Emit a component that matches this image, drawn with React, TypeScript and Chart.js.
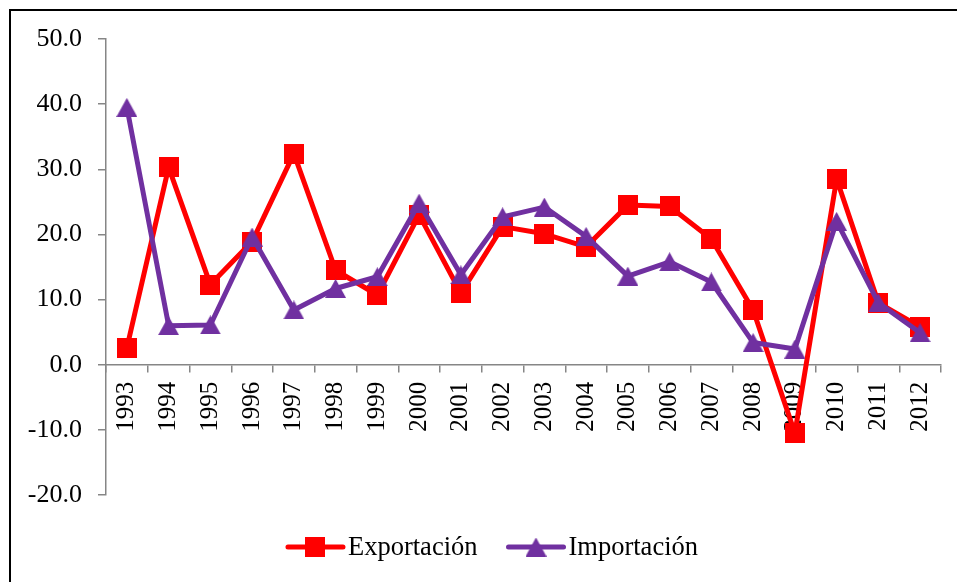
import React, { useEffect, useRef } from "react";
import { Chart, registerables } from "chart.js";

Chart.register(...registerables);

// Annual growth rates (%) of exports and imports
const years = [
  "1993", "1994", "1995", "1996", "1997", "1998", "1999", "2000", "2001", "2002",
  "2003", "2004", "2005", "2006", "2007", "2008", "2009", "2010", "2011", "2012",
];
const exportacion = [
  2.6, 30.3, 12.3, 18.9, 32.4, 14.5, 10.7, 23.0, 11.0, 21.2,
  20.1, 18.1, 24.5, 24.3, 19.3, 8.4, -10.5, 28.5, 9.5, 5.8,
];
const importacion = [
  39.5, 6.0, 6.1, 19.6, 8.4, 11.7, 13.5, 24.8, 13.8, 22.7,
  24.2, 19.7, 13.6, 15.8, 12.7, 3.4, 2.4, 22.0, 9.5, 4.9,
];
const seriesNames = ["Exportación", "Importación"];
const yMin = -20;
const yMax = 50;
const yStep = 10;

const RED = "#FF0000";
const PURPLE = "#7030A0";
const AXIS_GRAY = "#868686";
const FONT = '"Liberation Serif", "Times New Roman", serif';

function makeSquare(size: number, color: string): HTMLCanvasElement {
  const c = document.createElement("canvas");
  c.width = size;
  c.height = size;
  const g = c.getContext("2d")!;
  g.fillStyle = color;
  g.fillRect(0, 0, size, size);
  return c;
}

function makeTriangle(w: number, h: number, color: string): HTMLCanvasElement {
  const c = document.createElement("canvas");
  c.width = w;
  c.height = h;
  const g = c.getContext("2d")!;
  g.fillStyle = color;
  g.beginPath();
  g.moveTo(w / 2, 0);
  g.lineTo(w, h);
  g.lineTo(0, h);
  g.closePath();
  g.fill();
  return c;
}

export default function App() {
  const canvasRef = useRef<HTMLCanvasElement | null>(null);

  useEffect(() => {
    if (!canvasRef.current) return;
    const square = makeSquare(20, RED);
    const triangle = makeTriangle(21, 19, PURPLE);

    const frame = {
      id: "frame",
      beforeDraw(chart: any) {
        const ctx = chart.ctx;
        ctx.save();
        ctx.fillStyle = "#fff";
        ctx.fillRect(0, 0, chart.width, chart.height);
        ctx.strokeStyle = "#000";
        ctx.lineWidth = 2;
        ctx.strokeRect(10, 10, chart.width + 40, chart.height + 40);
        ctx.restore();
      },
    };

    const legend = {
      id: "lineLegend",
      afterDraw(chart: any) {
        const ctx = chart.ctx;
        ctx.save();
        ctx.font = `26.5px ${FONT}`;
        ctx.textBaseline = "middle";
        ctx.fillStyle = "#000";
        const items = [
          { text: seriesNames[0], color: RED, marker: square },
          { text: seriesNames[1], color: PURPLE, marker: triangle },
        ];
        const lineLen = 55;
        const textGap = 5;
        const itemGap = 31;
        const widths = items.map((it) => lineLen + textGap + ctx.measureText(it.text).width);
        const total = widths.reduce((a, b) => a + b, 0) + itemGap * (items.length - 1);
        let x = 493 - total / 2;
        const y = 547;
        items.forEach((it, i) => {
          ctx.strokeStyle = it.color;
          ctx.lineWidth = 5;
          ctx.lineCap = "round";
          ctx.beginPath();
          ctx.moveTo(x, y);
          ctx.lineTo(x + lineLen, y);
          ctx.stroke();
          const m = it.marker;
          ctx.drawImage(m, x + lineLen / 2 - m.width / 2, y - m.height / 2);
          ctx.fillText(it.text, x + lineLen + textGap, y + 1);
          x += widths[i] + itemGap;
        });
        ctx.restore();
      },
    };

    const chart = new Chart(canvasRef.current, {
      type: "line",
      data: {
        labels: years,
        datasets: [
          {
            label: seriesNames[0],
            data: exportacion,
            borderColor: RED,
            backgroundColor: RED,
            borderWidth: 5,
            borderJoinStyle: "round",
            borderCapStyle: "round",
            pointStyle: square,
            pointRadius: 10,
            order: 1,
          },
          {
            label: seriesNames[1],
            data: importacion,
            borderColor: PURPLE,
            backgroundColor: PURPLE,
            borderWidth: 5,
            borderJoinStyle: "round",
            borderCapStyle: "round",
            pointStyle: triangle,
            pointRadius: 10,
            order: 0,
          },
        ],
      },
      options: {
        animation: false,
        responsive: false,
        devicePixelRatio: 1,
        events: [],
        layout: {
          autoPadding: false,
          padding: { left: 0, top: 39, right: 16, bottom: 87 },
        },
        plugins: {
          legend: { display: false },
          tooltip: { enabled: false },
          title: { display: false },
        },
        scales: {
          x: {
            type: "category",
            position: { y: 0 },
            offset: true,
            grid: {
              offset: true,
              drawOnChartArea: false,
              drawTicks: true,
              tickLength: 7,
              color: AXIS_GRAY,
              lineWidth: 1.5,
            },
            border: { display: true, color: AXIS_GRAY, width: 1.5 },
            ticks: {
              autoSkip: false,
              minRotation: 90,
              maxRotation: 90,
              padding: 10,
              color: "#000",
              font: { family: FONT, size: 25 },
            },
            afterFit: (scale: any) => {
              // labels sit inside the plot, so they need no side margins
              scale.paddingLeft = 0;
              scale.paddingRight = 0;
            },
          },
          y: {
            min: yMin,
            max: yMax,
            grid: {
              drawOnChartArea: false,
              drawTicks: true,
              tickLength: 8,
              color: AXIS_GRAY,
              lineWidth: 1.5,
            },
            border: { display: true, color: AXIS_GRAY, width: 1.5 },
            ticks: {
              stepSize: yStep,
              padding: 16,
              color: "#000",
              font: { family: FONT, size: 26 },
              callback: (v: any) => Number(v).toFixed(1),
            },
            afterFit: (scale: any) => {
              scale.width = 106;
            },
          },
        },
      },
      plugins: [frame, legend],
    } as any);

    return () => chart.destroy();
  }, []);

  return (
    <div style={{ position: "absolute", left: 0, top: 0, width: 957, height: 582 }}>
      <canvas ref={canvasRef} width={957} height={582} style={{ display: "block" }} />
    </div>
  );
}
